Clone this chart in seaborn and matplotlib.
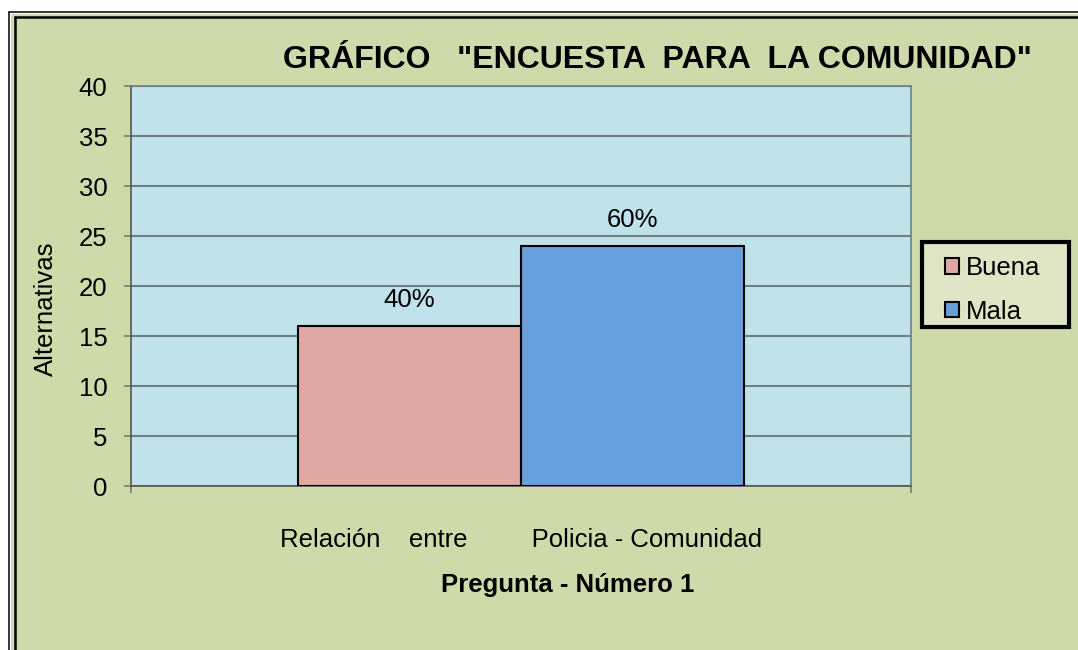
import matplotlib
matplotlib.use("Agg")
import matplotlib.pyplot as plt
import matplotlib.patches as mpatches
import seaborn as sns
import pandas as pd

# ---- data ----
categories = ["Relación    entre         Policia - Comunidad"]
series = ["Buena", "Mala"]
values = [16, 24]
pct_labels = ["40%", "60%"]
yticks = [0, 5, 10, 15, 20, 25, 30, 35, 40]
title = 'GRÁFICO   "ENCUESTA  PARA  LA COMUNIDAD"'
xlabel = "Pregunta - Número 1"
ylabel = "Alternativas"

colors = {"Buena": "#E0A8A4", "Mala": "#689FDD"}
fig_bg = "#CFDAAB"
plot_bg = "#C0E2EA"
grid_c = "#6E7F82"
FS = 18.5

sns.set_theme(style="white")
plt.rcParams['font.family'] = ['Liberation Sans', 'DejaVu Sans']
plt.rcParams['text.color'] = 'black'
plt.rcParams['axes.labelcolor'] = 'black'
plt.rcParams['xtick.color'] = 'black'
plt.rcParams['ytick.color'] = 'black'

df = pd.DataFrame({"cat": categories * len(series), "serie": series, "val": values})

fig = plt.figure(figsize=(10.78, 6.5), dpi=100, facecolor="white")
W, H = 1078, 650
bg = mpatches.Rectangle((11 / W, -0.1), 1.2, 1 - 14 / H + 0.1, transform=fig.transFigure,
                        facecolor=fig_bg, edgecolor="none", zorder=-10)
fig.add_artist(bg)
for (x0, y0, lw) in [(9, 12, 1.1), (14.5, 16.5, 1.8)]:
    fig.add_artist(plt.Line2D([x0 / W, x0 / W], [-0.1, 1 - y0 / H], transform=fig.transFigure,
                              color="black", lw=lw, zorder=-5))
    fig.add_artist(plt.Line2D([x0 / W, 1.1], [1 - y0 / H, 1 - y0 / H], transform=fig.transFigure,
                              color="black", lw=lw, zorder=-5))

ax = fig.add_axes([131 / W, 1 - 486 / H, (911 - 131) / W, (486 - 86) / H])
ax.set_zorder(1)
ax.set_facecolor(plot_bg)

sns.barplot(data=df, x="cat", y="val", hue="serie", palette=colors, width=0.572,
            saturation=1, edgecolor="black", linewidth=1.5, ax=ax, legend=False, zorder=3)

for cont, lab in zip(ax.containers, pct_labels):
    ax.bar_label(cont, labels=[lab], padding=10, fontsize=FS, color="black")

ax.set_ylim(0, 40)
ax.set_xlim(-0.5, 0.5)
ax.set_yticks(yticks)
ax.yaxis.grid(True, color=grid_c, lw=1.5, zorder=1)
ax.set_axisbelow(True)
ax.tick_params(axis="y", which="major", direction="out", length=5, width=1.2, color=grid_c,
               labelsize=FS, pad=12, left=True)
ax.tick_params(axis="x", which="major", length=0, labelsize=FS, pad=30)
ax.set_xticks([-0.5, 0.5], minor=True)
ax.tick_params(axis="x", which="minor", direction="out", length=5, width=1.2, color=grid_c, bottom=True)
for s in ax.spines.values():
    s.set_color(grid_c)
    s.set_linewidth(1.2)
ax.spines["left"].set_color("#555555")
ax.spines["bottom"].set_color("#555555")

ax.set_xlabel(xlabel, fontsize=FS, fontweight="bold", labelpad=14)
ax.xaxis.set_label_coords(0.56, -0.2175)
ax.set_ylabel(ylabel, fontsize=FS)
ax.yaxis.set_label_coords(-0.0936, 0.4425)

fig.text(657 / W, 1 - 60 / H, title, ha="center", va="center", fontsize=23, fontweight="bold")

# legend box
fig.add_artist(mpatches.Rectangle((922 / W, 1 - 327 / H), 147 / W, 85 / H, transform=fig.transFigure,
                                  facecolor="#DFE5C5", edgecolor="black", linewidth=3, zorder=4))
handles = [mpatches.Patch(facecolor=colors[s], edgecolor="black", linewidth=1.5, label=s) for s in series]
leg = fig.legend(handles=handles, loc="center left", bbox_to_anchor=(945 / W, 1 - 290 / H),
                 bbox_transform=fig.transFigure, fontsize=FS, frameon=False,
                 handlelength=0.55, handleheight=0.55, handletextpad=0.25, borderpad=0,
                 labelspacing=0.76, borderaxespad=0)
leg.set_zorder(5)

fig.savefig("out.png", dpi=100, facecolor="white")
